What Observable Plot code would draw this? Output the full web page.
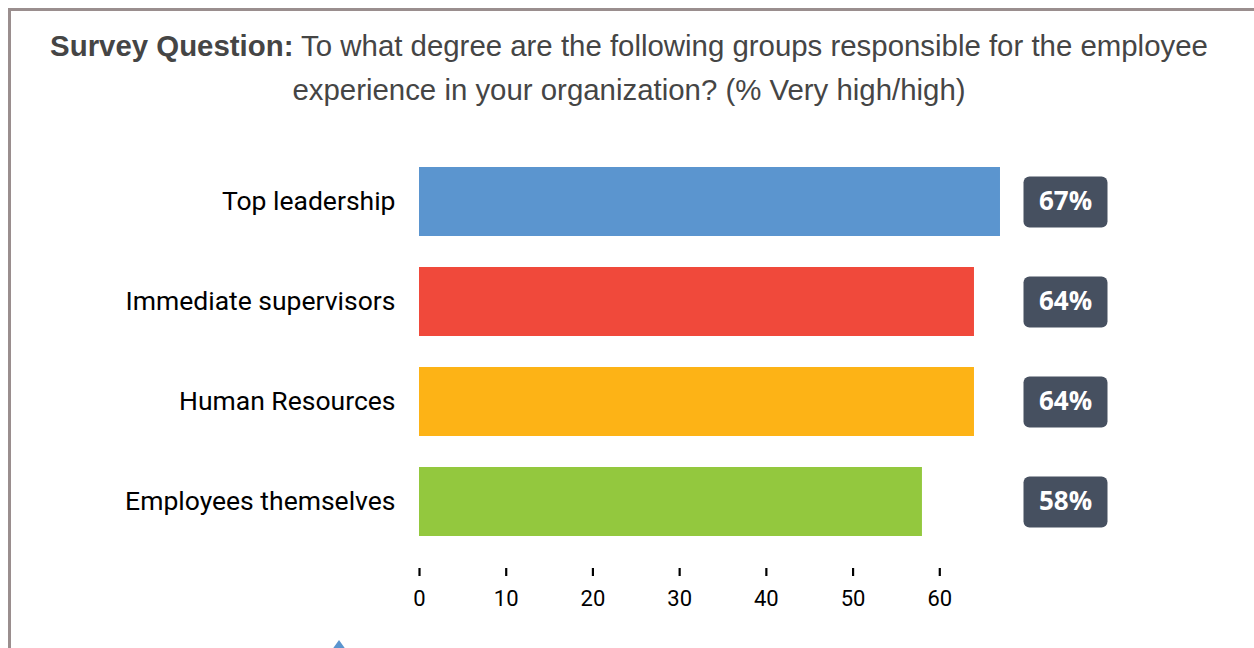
<!DOCTYPE html>
<html>
<head>
<meta charset="utf-8">
<script src="https://cdn.jsdelivr.net/npm/d3@7"></script>
<script src="https://cdn.jsdelivr.net/npm/@observablehq/plot@0.6"></script>
<style>
  html, body { margin: 0; padding: 0; background: #fff; width: 1254px; height: 648px; overflow: hidden; }
  #frame { position: absolute; left: 8px; top: 8px; width: 1400px; height: 800px;
           border-top: 3px solid #9a8e8e; border-left: 3px solid #9a8e8e; }
  #title { position: absolute; left: 0px; top: 24px; width: 1258px; text-align: center;
           font-family: "Liberation Sans", Arial, sans-serif; font-size: 29.4px; line-height: 44px; color: #454545; white-space: nowrap; }
  #title b { font-weight: bold; }
  #chart { position: absolute; left: 0; top: 130px; }
  #tri { position: absolute; left: 329px; top: 640px; width: 0; height: 0;
         border-left: 10px solid transparent; border-right: 10px solid transparent; border-bottom: 14px solid #5b95cf; }
</style>
</head>
<body>
<div id="frame"></div>
<div id="title"><b>Survey Question:</b> To what degree are the following groups responsible for the employee<br>experience in your organization? (% Very high/high)</div>
<div id="chart"></div>
<div id="tri"></div>
<script>
const categories = ["Top leadership", "Immediate supervisors", "Human Resources", "Employees themselves"];
const values = [67, 64, 64, 58];
const colors = ["#5b95cf", "#f0493b", "#fdb316", "#93c83e"];
const tickValues = [0, 10, 20, 30, 40, 50, 60];

const data = categories.map((c, i) => ({category: c, value: values[i]}));

const roundRect = {
  draw(context) {
    const w = 84, h = 51, r = 6;
    const x0 = -w / 2, y0 = -h / 2, x1 = w / 2, y1 = h / 2;
    context.moveTo(x0 + r, y0);
    context.lineTo(x1 - r, y0);
    context.arcTo(x1, y0, x1, y0 + r, r);
    context.lineTo(x1, y1 - r);
    context.arcTo(x1, y1, x1 - r, y1, r);
    context.lineTo(x0 + r, y1);
    context.arcTo(x0, y1, x0, y1 - r, r);
    context.lineTo(x0, y0 + r);
    context.arcTo(x0, y0, x0 + r, y0, r);
    context.closePath();
  }
};

const chart = Plot.plot({
  width: 1254,
  height: 490,
  marginLeft: 419,
  marginRight: 228,
  marginTop: 21,
  marginBottom: 52,
  style: {background: "transparent", color: "#000"},
  x: {domain: [0, 70]},
  y: {domain: categories, paddingInner: 0.31, paddingOuter: 0.155, insetBottom: 17},
  color: {domain: categories, range: colors},
  marks: [
    Plot.barX(data, {y: "category", x: "value", fill: "category"}),
    Plot.dot(data, {y: "category", frameAnchor: "right", dx: 39, symbol: roundRect, r: 10, fill: "#465060", stroke: null}),
    Plot.text(data, {y: "category", frameAnchor: "right", dx: 39, textAnchor: "middle", text: d => d.value + "%",
      fill: "white", fontWeight: "bold", fontSize: 26, fontFamily: "Open Sans"}),
    Plot.axisX({ticks: tickValues, tickSize: 8, tickPadding: 14, strokeWidth: 2.2, fontSize: 22,
      fontFamily: "Roboto", label: null, tickFormat: d => String(d)}),
    Plot.axisY({tickSize: 0, tickPadding: 24, fontSize: 26.5, fontFamily: "Roboto", label: null})
  ]
});
document.getElementById("chart").appendChild(chart);
</script>
</body>
</html>
